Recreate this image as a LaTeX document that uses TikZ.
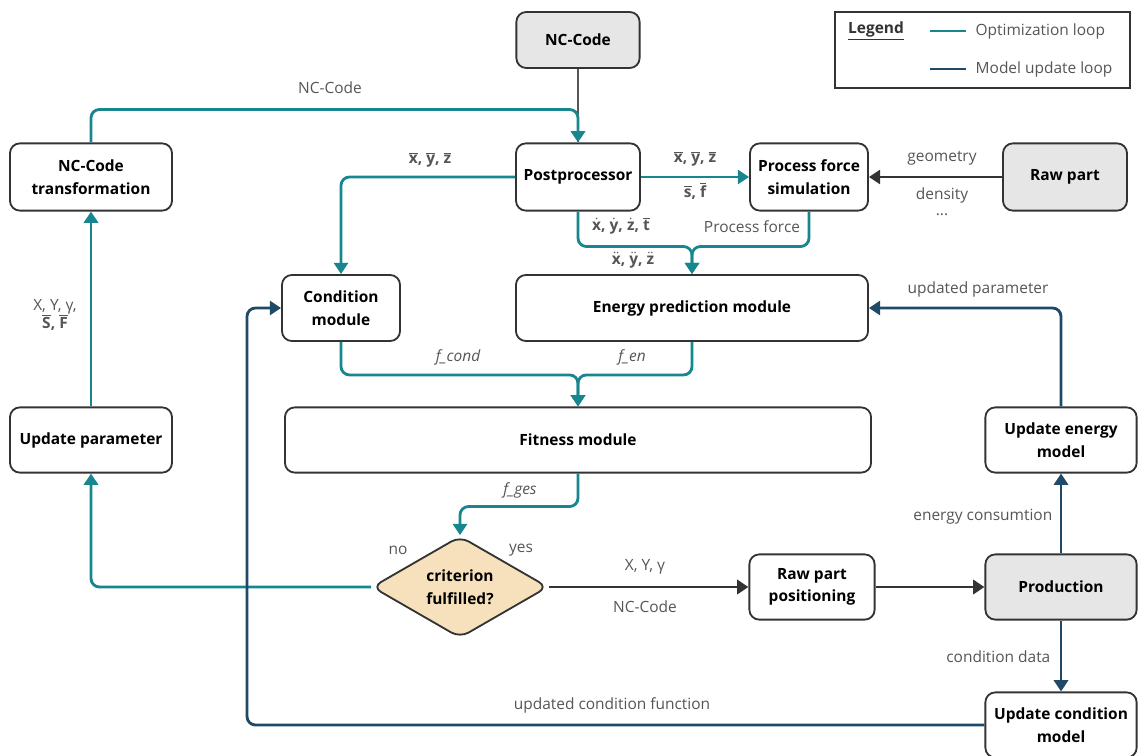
\documentclass[tikz,border=0pt]{standalone}
\usepackage{fontspec}
\setmainfont{Open Sans}
\usetikzlibrary{arrows.meta,shapes.geometric}
\definecolor{teal}{HTML}{17868F}
\definecolor{navy}{HTML}{1E4A68}
\definecolor{dark}{HTML}{333333}
\definecolor{lblgray}{HTML}{555555}
\definecolor{boxgray}{HTML}{E6E6E6}
\definecolor{tan}{HTML}{F7E1BC}
\def\ov#1{$\overline{\mbox{#1}}$}
\def\dt#1{$\dot{\mbox{#1}}$}
\def\ddt#1{$\ddot{\mbox{#1}}$}
\tikzset{
  box/.style={draw=dark,line width=1.3pt,rounded corners=7pt,align=center,
    inner sep=2pt,font=\fontsize{11}{16}\selectfont\bfseries},
  gbox/.style={box,fill=boxgray},
  lbl/.style={text=lblgray,font=\fontsize{11}{13}\selectfont,inner sep=1pt},
  blbl/.style={lbl,font=\fontsize{11}{13}\selectfont\bfseries},
  ilbl/.style={lbl,font=\fontsize{11}{13}\selectfont\itshape},
  opt/.style={teal,line width=2pt,rounded corners=6pt,-{Triangle[width=10pt,length=8pt]}},
  upd/.style={navy,line width=2pt,rounded corners=6pt,-{Triangle[width=10pt,length=8pt]}},
  flow/.style={dark,line width=2pt,-{Triangle[width=10pt,length=8pt]}},
}
\begin{document}
\begin{tikzpicture}[x=0.025cm,y=-0.025cm]
\useasboundingbox (0,0) rectangle (1138,756);
% boxes
\node[gbox,minimum width=3.08cm,minimum height=1.4cm] (nccode) at (578,40) {NC-Code};
\node[box,minimum width=3.1cm,minimum height=1.68cm] (post) at (578,177) {Postprocessor};
\node[box,minimum width=2.95cm,minimum height=1.68cm] (pfs) at (809,177) {Process force\\simulation};
\node[gbox,minimum width=3.1cm,minimum height=1.68cm] (raw) at (1065,177) {Raw part};
\node[box,minimum width=4.05cm,minimum height=1.68cm] (nct) at (91,177) {NC-Code\\transformation};
\node[box,minimum width=2.95cm,minimum height=1.65cm] (cond) at (341,308) {Condition\\module};
\node[box,minimum width=8.8cm,minimum height=1.65cm] (enp) at (692,308) {Energy prediction module};
\node[box,minimum width=4.05cm,minimum height=1.63cm] (uppar) at (91,440) {Update parameter};
\node[box,minimum width=14.65cm,minimum height=1.63cm] (fit) at (578,440) {Fitness module};
\node[box,minimum width=3.78cm,minimum height=1.63cm] (upen) at (1061,440) {Update energy\\model};
\node[box,diamond,fill=tan,inner sep=0pt,minimum width=4.4cm,minimum height=2.5cm] (dia) at (460,587) {criterion\\fulfilled?};
\node[box,minimum width=3.13cm,minimum height=1.63cm] (rpp) at (812,587) {Raw part\\positioning};
\node[gbox,minimum width=3.78cm,minimum height=1.63cm] (prod) at (1061,587) {Production};
\node[box,minimum width=3.78cm,minimum height=1.63cm] (upc) at (1061,725) {Update condition\\model};
% legend
\node[draw=dark,line width=1pt,minimum width=7.38cm,minimum height=1.9cm] (legend) at (982.5,50) {};
\node[blbl,text=dark] (lgd) at (876,31) {\underline{Legend}};
\coordinate (lo1) at (930,31); \coordinate (lo2) at (966,31);
\coordinate (lm1) at (930,69); \coordinate (lm2) at (966,69);
\draw[teal,line width=2pt] (lo1) -- (lo2);
\draw[navy,line width=2pt] (lm1) -- (lm2);
\node[lbl,anchor=west] (lgo) at (974,31) {Optimization loop};
\node[lbl,anchor=west] (lgm) at (974,69) {Model update loop};
% optimization loop
\draw[lblgray,line width=1pt] (nccode) -- (post);
\draw[opt] (nct.north) -- ++(0,-33) -| (post.north);
\draw[opt] (post.west) -| (cond.north);
\draw[opt] (post.east) -- (pfs.west);
\draw[opt] (post.south) -- ++(0,35) -| (enp.north);
\draw[opt] (pfs.south) -- ++(0,35) -| (enp.north);
\draw[opt] (cond.south) -- ++(0,33) -| (fit.north);
\draw[opt] (enp.south) -- ++(0,33) -| (fit.north);
\draw[opt] (fit.south) -- ++(0,33) -| (dia.north);
\draw[opt] (dia.west) -| (uppar.south);
\draw[opt] (uppar.north) -- (nct.south);
% production flow
\draw[flow] (raw.west) -- (pfs.east);
\draw[flow] (dia.east) -- (rpp.west);
\draw[flow] (rpp.east) -- (prod.west);
% model update loop
\coordinate (ucc) at (247,725);
\draw[upd] (prod.north) -- (upen.south);
\draw[upd] (upen.north) |- (enp.east);
\draw[upd] (prod.south) -- (upc.north);
\draw[upd] (upc.west) -- (ucc) |- (cond.west);
% labels
\node[lbl] (lnc) at (330,88) {NC-Code};
\node[blbl] (lxyz1) at (430,160) {\ov{x}, \ov{y}, \ov{z}};
\node[blbl] (lxyz2) at (695,159) {\ov{x}, \ov{y}, \ov{z}};
\node[blbl] (lsf) at (695,191) {\ov{s}, \ov{f}};
\node[lbl] (lgeo) at (942,158) {geometry};
\node[lbl] (lden) at (942,195) {density};
\node[lbl] (ldots) at (942,215) {...};
\node[blbl] (ldot) at (621,226) {\dt{x}, \dt{y}, \dt{z}, \ov{t}};
\node[blbl] (lddot) at (633,260) {\ddt{x}, \ddt{y}, \ddt{z}};
\node[lbl] (lpf) at (752,227) {Process force};
\node[ilbl] (lfc) at (458,357) {f\_cond};
\node[ilbl] (lfe) at (632,357) {f\_en};
\node[ilbl] (lfg) at (520,490) {f\_ges};
\node[lbl] (lno) at (398,550) {no};
\node[lbl] (lyes) at (521,550) {yes};
\node[lbl,align=center] (lxyg) at (55,315) {X, Y, γ,\\\textbf{\ov{S}, \ov{F}}};
\node[lbl] (lxyg2) at (645,567) {X, Y, γ};
\node[lbl] (lnc2) at (645,607) {NC-Code};
\node[lbl] (lupp) at (978,289) {updated parameter};
\node[lbl,anchor=east] (lec) at (1054,517) {energy consumtion};
\node[lbl,anchor=east] (lcd) at (1052,657) {condition data};
\node[lbl] (lucf) at (612,705) {updated condition function};
\end{tikzpicture}
\end{document}
